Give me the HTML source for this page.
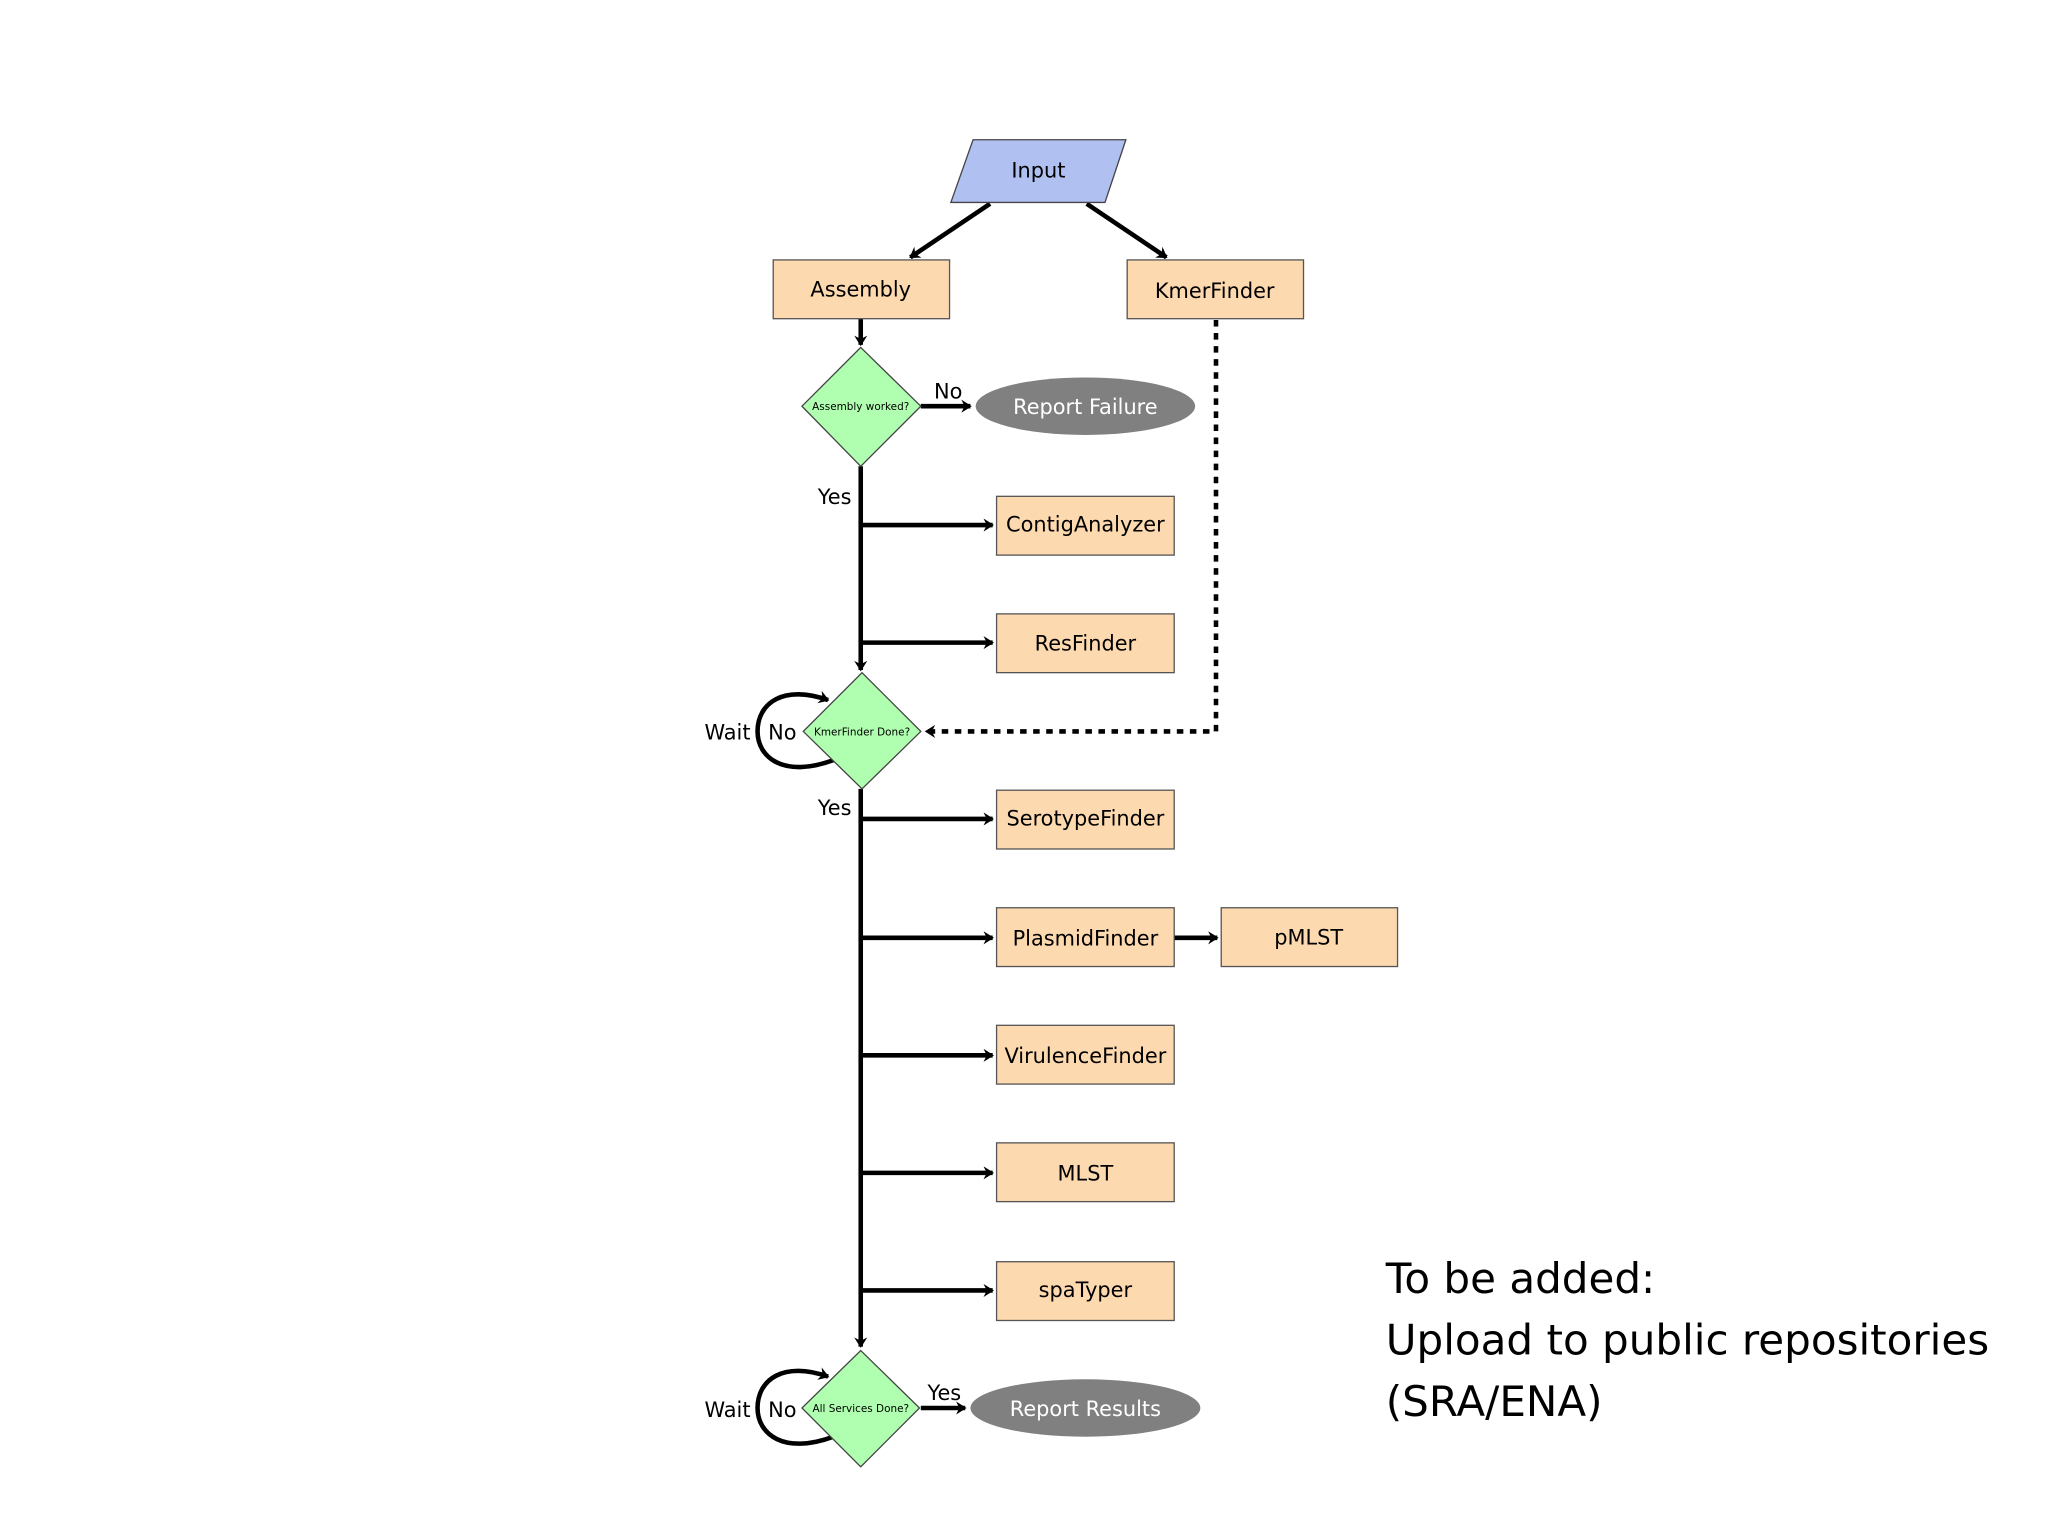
<!DOCTYPE html>
<html><head><meta charset="utf-8"><style>
html,body{margin:0;padding:0;background:#fff;}
svg{display:block;}
text{font-family:"DejaVu Sans","Liberation Sans",sans-serif;}
</style></head><body>
<svg width="2048" height="1536" viewBox="0 0 1568 1176" xmlns="http://www.w3.org/2000/svg">
<defs>
<marker id="a" markerWidth="10" markerHeight="10" refX="7" refY="5" orient="auto" markerUnits="userSpaceOnUse">
<path d="M0,0 L8,5 L0,10 L2.5,5 Z" fill="#000"/></marker>
</defs>
<rect width="1568" height="1176" fill="#fff"/>
<g stroke="#000" stroke-width="3.5" fill="none">
<line x1="758" y1="156" x2="697" y2="197" marker-end="url(#a)"/>
<line x1="832" y1="156" x2="893" y2="197" marker-end="url(#a)"/>
<line x1="659" y1="244" x2="659" y2="264" marker-end="url(#a)"/>
<line x1="705" y1="311" x2="743" y2="311" marker-end="url(#a)"/>
<line x1="659" y1="357" x2="659" y2="513" marker-end="url(#a)"/>
<line x1="659" y1="402" x2="760" y2="402" marker-end="url(#a)"/>
<line x1="659" y1="492" x2="760" y2="492" marker-end="url(#a)"/>
<path d="M931,245 L931,560 L709,560" stroke-dasharray="5,5" marker-end="url(#a)"/>
<path d="M638,582 C600,596 580,580 580,560 C580,538 600,524 634,536" marker-end="url(#a)"/>
<line x1="659" y1="604" x2="659" y2="1031" marker-end="url(#a)"/>
<line x1="659" y1="627" x2="760" y2="627" marker-end="url(#a)"/>
<line x1="659" y1="718" x2="760" y2="718" marker-end="url(#a)"/>
<line x1="659" y1="808" x2="760" y2="808" marker-end="url(#a)"/>
<line x1="659" y1="898" x2="760" y2="898" marker-end="url(#a)"/>
<line x1="659" y1="988" x2="760" y2="988" marker-end="url(#a)"/>
<line x1="899" y1="718" x2="932" y2="718" marker-end="url(#a)"/>
<path d="M638,1100 C600,1114 580,1098 580,1078 C580,1056 600,1042 634,1054" marker-end="url(#a)"/>
<line x1="705" y1="1078" x2="739" y2="1078" marker-end="url(#a)"/>
</g>
<polygon points="745,107 862,107 846,155 728,155" fill="#b0c0f0" stroke="#444" stroke-width="1"/>
<text x="795" y="136" font-size="16" text-anchor="middle">Input</text>
<g fill="#fdd9b0" stroke="#555" stroke-width="1">
<rect x="592" y="199" width="135" height="45"/>
<rect x="863" y="199" width="135" height="45"/>
<rect x="763" y="380" width="136" height="45"/>
<rect x="763" y="470" width="136" height="45"/>
<rect x="763" y="605" width="136" height="45"/>
<rect x="763" y="695" width="136" height="45"/>
<rect x="763" y="785" width="136" height="45"/>
<rect x="763" y="875" width="136" height="45"/>
<rect x="763" y="966" width="136" height="45"/>
<rect x="935" y="695" width="135" height="45"/>
</g>
<g font-size="16" text-anchor="middle">
<text x="659" y="227">Assembly</text>
<text x="930" y="228">KmerFinder</text>
<text x="831" y="407">ContigAnalyzer</text>
<text x="831" y="498">ResFinder</text>
<text x="831" y="632">SerotypeFinder</text>
<text x="831" y="724">PlasmidFinder</text>
<text x="831" y="814">VirulenceFinder</text>
<text x="831" y="904">MLST</text>
<text x="831" y="993">spaTyper</text>
<text x="1002" y="723">pMLST</text>
</g>
<g fill="#b0ffb0" stroke="#444" stroke-width="1">
<polygon points="659,266 705,311 659,357 614,311"/>
<polygon points="660,515 705,560 660,604 615,560"/>
<polygon points="659,1034 704,1078 659,1123 614,1078"/>
</g>
<g font-size="8" text-anchor="middle">
<text x="659" y="314">Assembly worked?</text>
<text x="660" y="563">KmerFinder Done?</text>
<text x="659" y="1081">All Services Done?</text>
</g>
<ellipse cx="831" cy="311" rx="84" ry="22" fill="#808080"/>
<ellipse cx="831" cy="1078" rx="88" ry="22" fill="#808080"/>
<g font-size="16" text-anchor="middle" fill="#fff">
<text x="831" y="317">Report Failure</text>
<text x="831" y="1084">Report Results</text>
</g>
<g font-size="16" text-anchor="middle">
<text x="726" y="305">No</text>
<text x="639" y="386">Yes</text>
<text x="557" y="566">Wait</text>
<text x="599" y="566">No</text>
<text x="639" y="624">Yes</text>
<text x="557" y="1085">Wait</text>
<text x="599" y="1085">No</text>
<text x="723" y="1072">Yes</text>
</g>
<g font-size="32.2">
<text x="1061" y="990">To be added:</text>
<text x="1061" y="1037">Upload to public repositories</text>
<text x="1061" y="1084">(SRA/ENA)</text>
</g>
</svg>
</body></html>
